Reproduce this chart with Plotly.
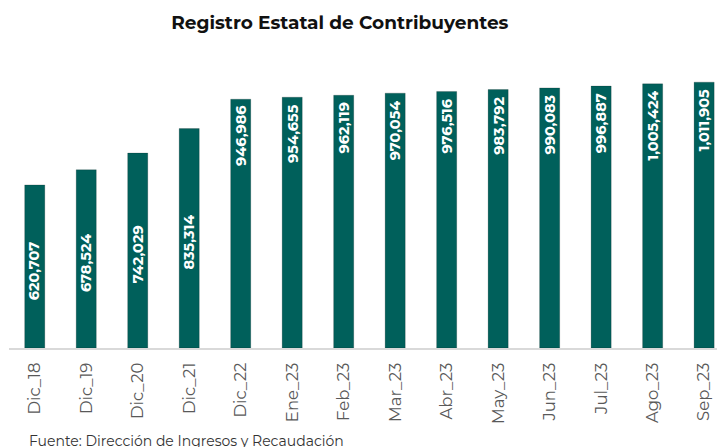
import plotly.graph_objects as go

categories = ["Dic_18", "Dic_19", "Dic_20", "Dic_21", "Dic_22", "Ene_23", "Feb_23",
              "Mar_23", "Abr_23", "May_23", "Jun_23", "Jul_23", "Ago_23", "Sep_23"]
values = [620707, 678524, 742029, 835314, 946986, 954655, 962119,
          970054, 976516, 983792, 990083, 996887, 1005424, 1011905]

BAR = "#00605B"
mid_n = 4  # first bars labelled at middle, rest just inside the top
FONT = "Montserrat, Open Sans, sans-serif"

fig = go.Figure()
fig.add_trace(go.Bar(
    x=categories, y=values,
    marker=dict(color=BAR, line=dict(color="rgba(0,0,0,0.18)", width=1)),
    width=0.39, showlegend=False, hoverinfo="x+y",
))

annotations = []
for i, (c, v) in enumerate(zip(categories, values)):
    if i < mid_n:
        annotations.append(dict(x=c, y=v / 2, yshift=-4, yanchor="middle"))
    else:
        annotations.append(dict(x=c, y=v, yshift=-5, yanchor="top"))
    annotations[-1].update(text=f"<b>{v:,}</b>", textangle=-90, showarrow=False,
                           xanchor="center", xref="x", yref="y",
                           font=dict(family=FONT, size=14.5, color="white"))

annotations.append(dict(text="Fuente: Dirección de Ingresos y Recaudación",
                        xref="paper", yref="paper", x=0.025, y=-0.284,
                        xanchor="left", yanchor="top", showarrow=False,
                        font=dict(family=FONT, size=14, color="#333333")))

fig.update_layout(
    width=717, height=447,
    margin=dict(l=9, r=0, t=59, b=99, autoexpand=False),
    paper_bgcolor="white", plot_bgcolor="white",
    title=dict(text="<b>Registro Estatal de Contribuyentes</b>",
               x=0.474, xanchor="center", y=0.95, yanchor="middle",
               font=dict(family=FONT, size=18.5, color="#111111")),
    xaxis=dict(categoryorder="array", categoryarray=categories,
               range=[-0.5, 13.25], tickangle=-90, automargin=False,
               tickfont=dict(family=FONT, size=16.5, color="#595959"),
               showline=True, linecolor="#d9d9d9", linewidth=2,
               ticks="", showgrid=False, ticklabelstandoff=6),
    yaxis=dict(range=[0, 1100000], visible=False, showgrid=False, automargin=False),
    annotations=annotations,
)

fig.write_html("out.html", config={"displayModeBar": False},
               post_script="document.body.style.margin='0';")
